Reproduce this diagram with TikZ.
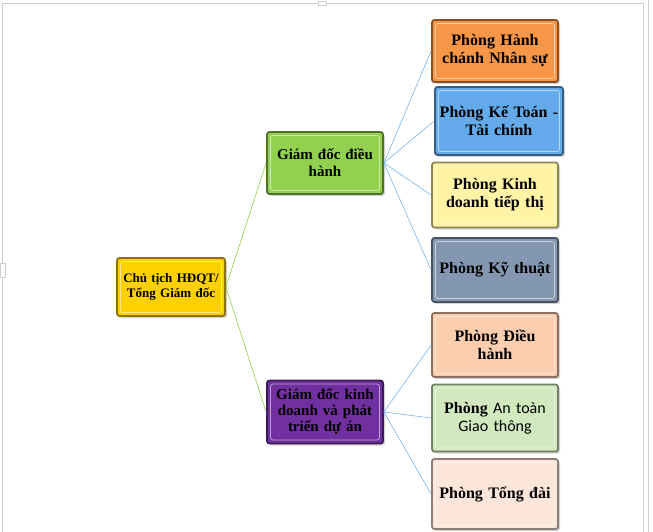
\documentclass[tikz,border=0pt]{standalone}
\usepackage{fontspec}
\setmainfont{Liberation Serif}
\newfontfamily\calibrifont{Carlito}
\usepackage{tikz}
\usetikzlibrary{positioning, shadows}
\definecolor{RootColor}{RGB}{255,208,0}
\definecolor{GreenColor}{RGB}{146,208,80}
\definecolor{PurpleColor}{RGB}{112,48,160}
\definecolor{OrangeColor}{RGB}{247,150,70}
\definecolor{BlueColor}{RGB}{100,170,235}
\definecolor{PaleYellow}{RGB}{255,243,165}
\definecolor{SlateColor}{RGB}{132,151,176}
\definecolor{PeachColor}{RGB}{251,205,175}
\definecolor{MintColor}{RGB}{210,233,192}
\definecolor{BlushColor}{RGB}{252,230,218}
\definecolor{LinkGreen}{RGB}{146,208,80}
\definecolor{LinkBlue}{RGB}{120,180,235}
\definecolor{FrameGray}{RGB}{205,205,205}
\tikzstyle{box} = [rectangle, rounded corners=2.5pt, line width=1.8pt, align=center,
  font=\bfseries, inner sep=2pt, drop shadow={shadow xshift=2pt, shadow yshift=-2pt, opacity=.35},
  path picture={\draw[white, opacity=.55, line width=.8pt]
    ([shift={(3.5pt,-3.5pt)}]path picture bounding box.north west) rectangle
    ([shift={(-3.5pt,3.5pt)}]path picture bounding box.south east);}]
\tikzstyle{dept} = [box, minimum width=126pt, text width=120pt, font=\bfseries\fontsize{16}{18}\selectfont]
\tikzstyle{head} = [box, minimum width=116pt, minimum height=62pt, text width=112pt, font=\bfseries\fontsize{15}{17}\selectfont]
\tikzstyle{link} = [line width=.6pt]
\tikzset{tint/.style={fill=#1, draw=#1!55!black}}

\begin{document}
\begin{tikzpicture}[x=1pt, y=-1pt]
  \useasboundingbox (0,0) rectangle (653,532);

  % Canvas frame
  \draw[FrameGray, line width=.8pt] (2,532) -- (2,3) -- (643,3) -- (643,532);
  \draw[FrameGray, line width=.8pt] (648,0) -- (648,532);
  \draw[FrameGray, fill=white, line width=.6pt] (318,1) rectangle (326,5);
  \draw[FrameGray, fill=white, line width=.6pt] (0,263) rectangle (5,277);

  % Root
  \node[box, tint=RootColor, minimum width=108pt, minimum height=58pt, text width=104pt,
    font=\bfseries\fontsize{13}{15}\selectfont] (root) at (171,287) {Chủ tịch HĐQT/\\Tổng Giám đốc};

  % Level 1
  \node[head, tint=GreenColor] (exec) at (325,163) {Giám đốc điều\\hành};
  \node[head, tint=PurpleColor, minimum height=63pt, font=\bfseries\fontsize{15}{16}\selectfont]
    (biz) at (325,412) {Giám đốc kinh\\doanh và phát\\triển dự án};

  % Level 2
  \node[dept, tint=OrangeColor, minimum height=62pt] (hr) at (495,51) {Phòng Hành\\chánh Nhân sự};
  \node[dept, tint=BlueColor, minimum width=128pt, minimum height=68pt] (acct) at (499,121) {Phòng Kế Toán -\\Tài chính};
  \node[dept, tint=PaleYellow, minimum height=65pt] (sales) at (495,195) {Phòng Kinh\\doanh tiếp thị};
  \node[dept, tint=SlateColor, minimum height=64pt] (tech) at (495,270) {Phòng Kỹ thuật};
  \node[dept, tint=PeachColor, minimum height=64pt] (ops) at (495,345) {Phòng Điều\\hành};
  \node[dept, tint=MintColor, minimum height=67pt] (safety) at (495,418)
    {Phòng {\calibrifont\mdseries An toàn}\\{\calibrifont\mdseries Giao thông}};
  \node[dept, tint=BlushColor, minimum height=70pt] (call) at (495,494) {Phòng Tổng đài};

  % Connections
  \draw[link, LinkGreen] (root.east) -- (exec.west);
  \draw[link, LinkGreen] (root.east) -- (biz.west);
  \foreach \d in {hr, acct, sales, tech}
    \draw[link, LinkBlue] (exec.east) -- (\d.west);
  \foreach \d in {ops, safety, call}
    \draw[link, LinkBlue] (biz.east) -- (\d.west);
\end{tikzpicture}
\end{document}
